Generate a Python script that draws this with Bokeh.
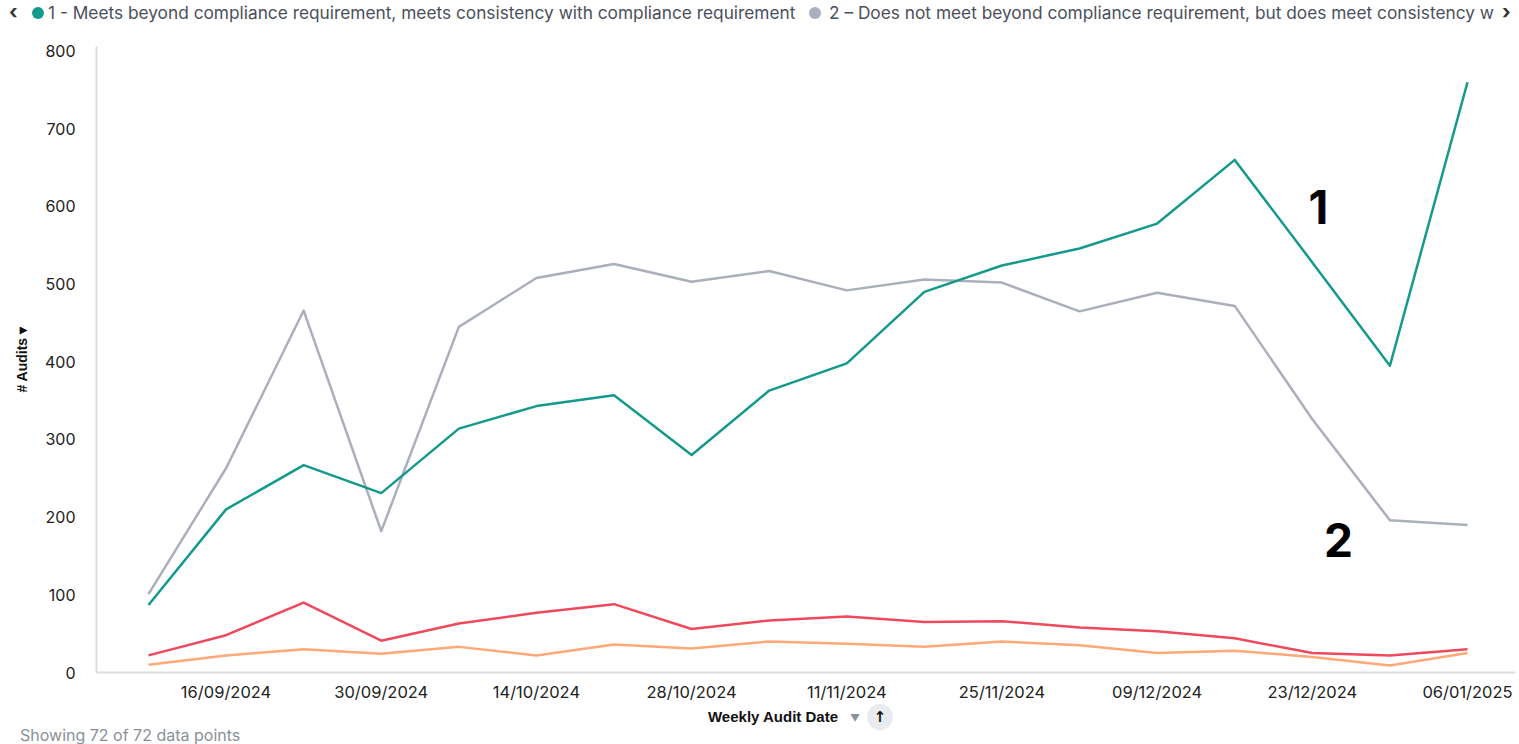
import pandas as pd
from bokeh.plotting import figure
from bokeh.layouts import column
from bokeh.models import Range1d, FixedTicker, DatetimeTickFormatter, Label, ColumnDataSource, Div
from bokeh.embed import file_html
from bokeh.resources import INLINE

# ---- data ----
weeks = ["2024-09-09", "2024-09-16", "2024-09-23", "2024-09-30", "2024-10-07", "2024-10-14",
         "2024-10-21", "2024-10-28", "2024-11-04", "2024-11-11", "2024-11-18", "2024-11-25",
         "2024-12-02", "2024-12-09", "2024-12-16", "2024-12-23", "2024-12-30", "2025-01-06"]
series1 = [87, 210, 267, 231, 314, 343, 357, 280, 363, 398, 490, 524, 546, 578, 660, 528, 395, 760]
series2 = [101, 263, 466, 182, 445, 508, 526, 503, 517, 492, 506, 502, 465, 489, 472, 326, 196, 190]
series3 = [22, 48, 90, 41, 63, 77, 88, 56, 67, 72, 65, 66, 58, 53, 44, 25, 22, 30]
series4 = [10, 22, 30, 24, 33, 22, 36, 31, 40, 37, 33, 40, 35, 25, 28, 20, 9, 25]
tick_dates = ["2024-09-16", "2024-09-30", "2024-10-14", "2024-10-28", "2024-11-11",
              "2024-11-25", "2024-12-09", "2024-12-23", "2025-01-06"]
y_ticks = [0, 100, 200, 300, 400, 500, 600, 700, 800]
legend1 = "1 - Meets beyond compliance requirement, meets consistency with compliance requirement"
legend2 = "2 \u2013 Does not meet beyond compliance requirement, but does meet consistency w"
x_title = "Weekly Audit Date"
y_title = "# Audits \u25BE"
footer = "Showing 72 of 72 data points"

colors = ["#14998c", "#a9afbc", "#ee4a5c", "#ffa878"]

dates = pd.to_datetime(weeks)
src = ColumnDataSource(dict(x=dates, s1=series1, s2=series2, s3=series3, s4=series4))

day = 86400000.0
x0 = dates[0].value / 1e6 - 4.69 * day
x1 = dates[-1].value / 1e6 + 4.33 * day

TOP_H = 26      # header div height
FIG_H = 678     # figure height (canvas 26 -> 704)
BOT_H = 744 - TOP_H - FIG_H

p = figure(width=1519, height=FIG_H, output_backend="svg", toolbar_location=None,
           x_axis_type="datetime", x_range=Range1d(x0, x1), y_range=Range1d(0, 806),
           min_border_left=96, min_border_right=4, min_border_top=20, min_border_bottom=30,
           margin=(0, 0, 0, 0))
p.outline_line_color = None
p.xgrid.grid_line_color = None
p.ygrid.grid_line_color = None
p.background_fill_color = "white"
p.border_fill_color = "white"

for col, c in zip(["s4", "s3", "s2", "s1"], [colors[3], colors[2], colors[1], colors[0]]):
    p.line("x", col, source=src, line_color=c, line_width=2.5, line_join="round")

xa = p.xaxis[0]
xa.ticker = FixedTicker(ticks=[pd.Timestamp(d).value / 1e6 for d in tick_dates])
fmt = "%d/%m/%Y"
xa.formatter = DatetimeTickFormatter(days=fmt, months=fmt, years=fmt, hours=fmt, minutes=fmt,
                                     seconds=fmt, milliseconds=fmt, minsec=fmt, hourmin=fmt)
xa.major_tick_line_color = None
xa.minor_tick_line_color = None
xa.major_tick_out = 0
xa.major_tick_in = 0
xa.axis_line_color = "#dddddd"
xa.axis_line_width = 2
xa.major_label_text_font = "Inter"
xa.major_label_text_font_size = "16.5px"
xa.major_label_text_color = "#222222"
xa.major_label_standoff = 9

ya = p.yaxis[0]
ya.ticker = FixedTicker(ticks=y_ticks)
ya.major_tick_line_color = None
ya.minor_tick_line_color = None
ya.major_tick_out = 0
ya.major_tick_in = 0
ya.axis_line_color = "#dddddd"
ya.axis_line_width = 2
ya.major_label_text_font = "Inter"
ya.major_label_text_font_size = "16px"
ya.major_label_text_color = "#222222"
ya.major_label_standoff = 21
ya.axis_label = y_title
ya.axis_label_text_font = "Liberation Sans"
ya.axis_label_text_font_style = "bold"
ya.axis_label_text_font_size = "14px"
ya.axis_label_text_color = "#111111"
ya.axis_label_standoff = 12

# in-plot annotations (frame-relative screen coords)
FL, FB = 96, 674 - TOP_H
for cx, cy, t in [(1318, 208, "1"), (1338, 541, "2")]:
    p.add_layout(Label(x=cx - FL, y=FB - (cy - TOP_H), x_units="screen", y_units="screen",
                       text=t, text_font_size="46px", text_font="Inter", text_font_style="bold",
                       text_color="#000000", text_align="center", text_baseline="middle"))

header = Div(width=1519, height=TOP_H, margin=(0, 0, 0, 0), text=f"""
<div style="position:relative;width:1519px;height:{TOP_H}px;font-family:Inter,Roboto,sans-serif;
font-size:17.3px;color:#4b4f5c;white-space:nowrap;line-height:20px;">
<span style="position:absolute;left:9px;top:2px;font-size:20px;font-weight:bold;color:#333;">&#8249;</span>
<span style="position:absolute;left:32px;top:7px;width:12px;height:12px;border-radius:50%;background:{colors[0]};"></span>
<span style="position:absolute;left:48px;top:3px;">{legend1}</span>
<span style="position:absolute;left:809px;top:7px;width:12px;height:12px;border-radius:50%;background:{colors[1]};"></span>
<span style="position:absolute;left:829px;top:3px;">{legend2}</span>
<span style="position:absolute;left:1502px;top:2px;font-size:20px;font-weight:bold;color:#333;">&#8250;</span>
</div>""")

footer_div = Div(width=1519, height=BOT_H, margin=(0, 0, 0, 0), text=f"""
<div style="position:relative;width:1519px;height:{BOT_H}px;font-family:Inter,Roboto,sans-serif;white-space:nowrap;">
<span style="position:absolute;left:773px;top:4px;transform:translateX(-50%);font-family:'Liberation Sans';
font-weight:bold;font-size:15px;line-height:18px;color:#111;">{x_title}</span>
<span style="position:absolute;left:850px;top:5px;font-size:10px;line-height:18px;color:#8a90a0;">&#9660;</span>
<span style="position:absolute;left:867px;top:0px;width:26px;height:26px;border-radius:50%;background:#e9ebef;
text-align:center;line-height:26px;font-family:'DejaVu Sans';font-weight:bold;font-size:15px;color:#111;">&#8593;</span>
<span style="position:absolute;left:20px;top:22px;font-size:16px;line-height:18px;color:#8a8f99;">{footer}</span>
</div>""")

layout = column(header, p, footer_div, spacing=0, margin=(0, 0, 0, 0))
open("out.html", "w").write(file_html(layout, INLINE))
